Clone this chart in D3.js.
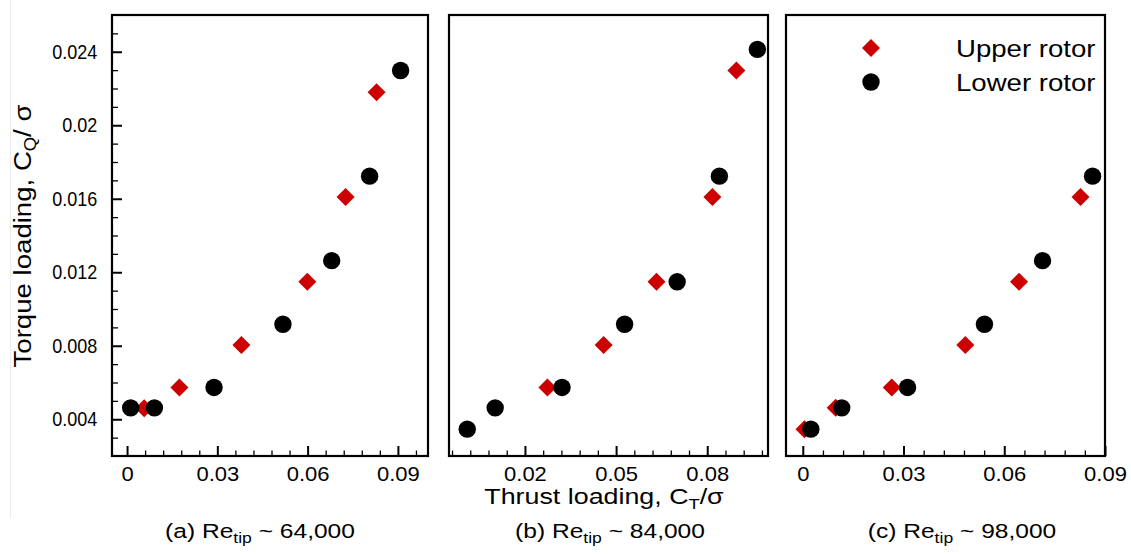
<!DOCTYPE html>
<html>
<head>
<meta charset="utf-8">
<script src="https://cdn.jsdelivr.net/npm/d3@7"></script>
<style>
  body { margin: 0; background: #fff; }
  svg { display: block; font-family: "Liberation Sans", Arial, sans-serif; }
  text { white-space: pre; fill: #000; }
</style>
</head>
<body>
<svg width="1131" height="554"></svg>
<script>
'use strict';

// C_T/sigma, C_Q/sigma pairs
const upperA = [[0.0057, 0.0046], [0.0174, 0.00573], [0.038, 0.00804], [0.0599, 0.01148], [0.0726, 0.0161], [0.0829, 0.02179]];
const lowerA = [[0.0012, 0.00462], [0.0091, 0.00462], [0.0289, 0.00573], [0.0518, 0.00917], [0.068, 0.01263], [0.0806, 0.01723], [0.0909, 0.02298]];
const upperB = [[0.0274, 0.00573], [0.0459, 0.00804], [0.0633, 0.01148], [0.0817, 0.0161], [0.0896, 0.02298]];
const lowerB = [[0.001, 0.00346], [0.0102, 0.00462], [0.0322, 0.00573], [0.0528, 0.00917], [0.0701, 0.01148], [0.084, 0.01723], [0.0965, 0.02413]];
const upperC = [[0.0005, 0.00346], [0.0098, 0.00462], [0.0265, 0.00573], [0.0484, 0.00804], [0.0644, 0.01148], [0.0827, 0.0161]];
const lowerC = [[0.0024, 0.00346], [0.0116, 0.00462], [0.0312, 0.00573], [0.0541, 0.00917], [0.0714, 0.01263], [0.0863, 0.01723]];

const panelTags = ['(a)', '(b)', '(c)'];
const reynolds = ['64,000', '84,000', '98,000'];
const seriesNames = ['Upper rotor', 'Lower rotor'];

const yTicks = [0.004, 0.008, 0.012, 0.016, 0.02, 0.024];
const xTicksA = [0, 0.03, 0.06, 0.09];
const xTicksB = [0.02, 0.05, 0.08];
const xTicksC = [0, 0.03, 0.06, 0.09];

const RED = '#cc0000';
const TOP = 15, BOTTOM = 456;

const svg = d3.select('svg');
const fmt = d => String(+d.toFixed(3));

const y = d3.scaleLinear().domain([0.002, 0.026]).range([BOTTOM, TOP]);

const panels = [
  { left: 112, right: 428, domain: [-0.005, 0.1], ticks: xTicksA, upper: upperA, lower: lowerA, yAxis: true, capX: 260 },
  { left: 449, right: 768, domain: [-0.005, 0.1], ticks: xTicksB, upper: upperB, lower: lowerB, yAxis: false, capX: 610 },
  { left: 786, right: 1105, domain: [-0.005, 0.09], ticks: xTicksC, upper: upperC, lower: lowerC, yAxis: false, capX: 962 }
];

const diamond = d3.symbol(d3.symbolSquare, 162)();

// faint crop edge seen in the original
svg.append('line')
  .attr('x1', 10.5).attr('x2', 10.5).attr('y1', 0).attr('y2', 518)
  .attr('stroke', '#ececec').attr('stroke-width', 1);

function stretched(g, x, yPos, sx, size, anchor) {
  return g.append('text')
    .attr('transform', `translate(${x},${yPos}) scale(${sx},1)`)
    .attr('font-size', size)
    .attr('text-anchor', anchor);
}

panels.forEach((p, i) => {
  const g = svg.append('g');
  const x = d3.scaleLinear().domain(p.domain).range([p.left, p.right]);

  // minor x ticks every 0.006 counted from the first major tick
  const minorX = d3.range(-40, 40)
    .map(k => +(p.ticks[0] + k * 0.006).toFixed(4))
    .filter(v => v > p.domain[0] && v < p.domain[1] && !p.ticks.some(t => Math.abs(t - v) < 1e-6));

  g.append('g')
    .attr('transform', `translate(0,${BOTTOM})`)
    .call(d3.axisBottom(x).tickValues(minorX).tickSize(-5.5).tickFormat(''))
    .call(a => a.select('.domain').remove())
    .call(a => a.selectAll('line').attr('stroke-width', 1.3));

  g.append('g')
    .attr('transform', `translate(0,${BOTTOM})`)
    .call(d3.axisBottom(x).tickValues(p.ticks).tickSize(-10).tickPadding(11).tickFormat(fmt))
    .call(a => a.select('.domain').remove())
    .call(a => a.selectAll('line').attr('stroke-width', 2))
    .call(a => a.selectAll('text')
      .attr('font-size', 20)
      .attr('font-family', '"Liberation Sans", Arial, sans-serif')
      .attr('transform', 'scale(1.1,1)'));

  if (p.yAxis) {
    const minorY = d3.range(3, 26).map(k => k / 1000)
      .filter(v => !yTicks.some(t => Math.abs(t - v) < 1e-6));
    g.append('g')
      .attr('transform', `translate(${p.left},0)`)
      .call(d3.axisLeft(y).tickValues(minorY).tickSize(-6).tickFormat(''))
      .call(a => a.select('.domain').remove())
      .call(a => a.selectAll('line').attr('stroke-width', 1.3));
    g.append('g')
      .attr('transform', `translate(${p.left},0)`)
      .call(d3.axisLeft(y).tickValues(yTicks).tickSize(-10).tickPadding(16.5).tickFormat(fmt))
      .call(a => a.select('.domain').remove())
      .call(a => a.selectAll('line').attr('stroke-width', 2))
      .call(a => a.selectAll('text')
        .attr('font-size', 20)
        .attr('font-family', '"Liberation Sans", Arial, sans-serif')
        .attr('transform', 'scale(0.9,1)'));
  }

  g.append('rect')
    .attr('x', p.left).attr('y', TOP)
    .attr('width', p.right - p.left).attr('height', BOTTOM - TOP)
    .attr('fill', 'none').attr('stroke', '#000').attr('stroke-width', 2.2);

  g.append('g').selectAll('path')
    .data(p.upper)
    .join('path')
      .attr('d', diamond)
      .attr('transform', d => `translate(${x(d[0])},${y(d[1])}) rotate(45)`)
      .attr('fill', RED);

  g.append('g').selectAll('circle')
    .data(p.lower)
    .join('circle')
      .attr('cx', d => x(d[0]))
      .attr('cy', d => y(d[1]))
      .attr('r', 8.7)
      .attr('fill', '#000');

  const cap = stretched(svg, p.capX, 538, 1.17, 21, 'middle');
  cap.append('tspan').text(panelTags[i] + ' Re');
  cap.append('tspan').attr('font-size', 15).attr('dy', 5).text('tip');
  cap.append('tspan').attr('dy', -5).text(' ~ ' + reynolds[i]);
});

// axis titles
const xTitle = stretched(svg, 604, 504, 1.22, 22, 'middle');
xTitle.append('tspan').text('Thrust loading, C');
xTitle.append('tspan').attr('font-size', 15).attr('dy', 5).text('T');
xTitle.append('tspan').attr('dy', -5).text('/σ');

const yTitle = svg.append('text')
  .attr('transform', 'translate(31,236) rotate(-90) scale(1.15,1)')
  .attr('font-size', 24)
  .attr('text-anchor', 'middle');
yTitle.append('tspan').text('Torque loading, C');
yTitle.append('tspan').attr('font-size', 16).attr('dy', 5).text('Q');
yTitle.append('tspan').attr('dy', -5).text('/ σ');

// legend
const legend = svg.append('g');
const legendY = [48, 82];
legend.append('path')
  .attr('d', diamond)
  .attr('transform', `translate(871,${legendY[0]}) rotate(45)`)
  .attr('fill', RED);
legend.append('circle')
  .attr('cx', 871).attr('cy', legendY[1]).attr('r', 8.7)
  .attr('fill', '#000');
seriesNames.forEach((name, i) => {
  stretched(legend, 956, legendY[i] + 8.5, 1.2, 23, 'start').text(name);
});
</script>
</body>
</html>
